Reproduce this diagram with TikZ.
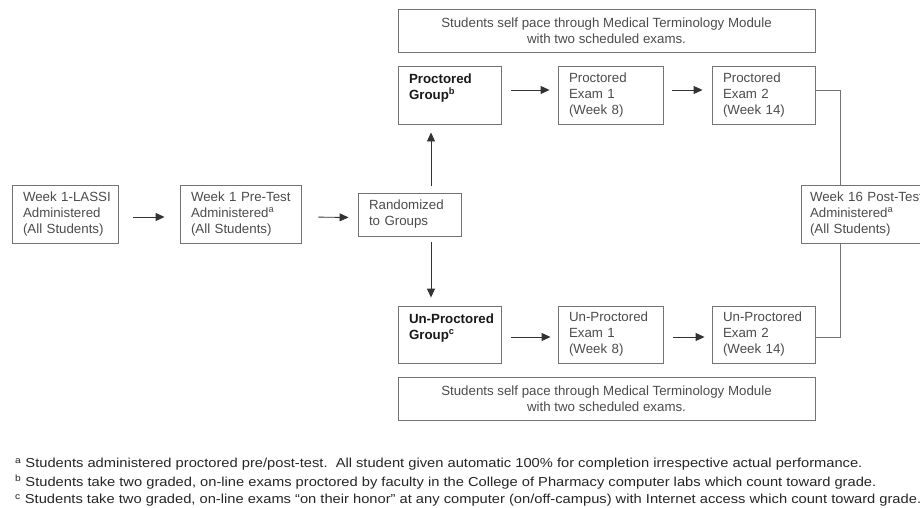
\documentclass[tikz,border=0pt]{standalone}
\usepackage{fontspec}
\setmainfont{Liberation Sans}
\newfontfamily\notefont[FakeStretch=1.13]{Liberation Sans}
\usetikzlibrary{arrows.meta}
\begin{document}
\begin{tikzpicture}[x=1pt,y=-1pt,
  box/.style={draw=black!55, line width=0.9pt, inner xsep=11pt, inner ysep=0pt,
    align=left, font=\fontsize{13.3}{16}\selectfont, text=black!70},
  grp/.style={box, font=\fontsize{13.3}{16}\selectfont\bfseries, text=black!90},
  modbox/.style={draw=black!55, line width=0.9pt, align=center, inner sep=0pt,
    font=\fontsize{13.3}{16}\selectfont, text=black!70, minimum width=417pt, minimum height=43pt},
  arr/.style={draw=black!80, line width=0.9pt, -{Triangle[length=9pt,width=8pt]}},
  link/.style={draw=black!55, line width=0.9pt},
  note/.style={anchor=west, align=left, inner sep=0pt, font=\notefont\fontsize{13}{18}\selectfont, text=black!85}]
\useasboundingbox (0,0) rectangle (920,508);
\clip (0,0) rectangle (920,508);
\fill[white] (0,0) rectangle (920,508);

% boxes
\node[box, text width=84pt, minimum height=58pt] (A) at (65,214)
  {\mbox{Week 1-LASSI}\\\mbox{Administered}\\\mbox{(All Students)}};
\node[box, text width=99pt, minimum height=58pt] (B) at (240.5,214)
  {\mbox{Week 1 Pre-Test}\\\mbox{Administered\textsuperscript{a}}\\\mbox{(All Students)}};
\node[box, text width=81pt, minimum height=43pt] (R) at (409.5,214.5)
  {\mbox{Randomized}\\\mbox{to Groups}};
\node[modbox] (TM) at (606.5,30.5)
  {Students self pace through Medical Terminology Module\\with two scheduled exams.};
\node[grp, text width=81pt, minimum height=58pt] (PG) at (449.5,95)
  {\mbox{Proctored}\\\mbox{Group\textsuperscript{b}}\\\mbox{}};
\node[box, text width=83pt, minimum height=58pt] (E1) at (610.5,95)
  {\mbox{Proctored}\\\mbox{Exam 1}\\\mbox{(Week 8)}};
\node[box, text width=81pt, minimum height=58pt] (E2) at (763.5,95)
  {\mbox{Proctored}\\\mbox{Exam 2}\\\mbox{(Week 14)}};
\node[grp, text width=81pt, minimum height=57pt] (UPG) at (449.5,334.5)
  {\mbox{Un-Proctored}\\\mbox{Group\textsuperscript{c}}\\\mbox{}};
\node[box, text width=83pt, minimum height=57pt] (UE1) at (610.5,334.5)
  {\mbox{Un-Proctored}\\\mbox{Exam 1}\\\mbox{(Week 8)}};
\node[box, text width=81pt, minimum height=57pt] (UE2) at (763.5,334.5)
  {\mbox{Un-Proctored}\\\mbox{Exam 2}\\\mbox{(Week 14)}};
\node[modbox] (BM) at (606.5,398.5)
  {Students self pace through Medical Terminology Module\\with two scheduled exams.};
\node[box, inner xsep=9pt, text width=112pt, minimum height=58pt] (P) at (866,214)
  {\mbox{Week 16 Post-Test}\\\mbox{Administered\textsuperscript{a}}\\\mbox{(All Students)}};

% arrows
\draw[arr, shorten <=15pt, shorten >=15pt] ([yshift=-3pt]A.east) -- ([yshift=-3pt]B.west);
\draw[arr, shorten <=17pt, shorten >=9pt] ([yshift=-3pt]B.east) -- ([yshift=-3pt]R.west);
\draw[arr, shorten <=7pt, shorten >=8pt] ([xshift=21.5pt]R.north) -- ([xshift=21.5pt]R.north |- PG.south);
\draw[arr, shorten <=6pt, shorten >=8pt] ([xshift=21.5pt]R.south) -- ([xshift=21.5pt]R.south |- UPG.north);
\draw[arr, shorten <=10pt, shorten >=8pt] ([yshift=5pt]PG.east) -- ([yshift=5pt]E1.west);
\draw[arr, shorten <=9pt, shorten >=9pt] ([yshift=5pt]E1.east) -- ([yshift=5pt]E2.west);
\draw[arr, shorten <=10pt, shorten >=7pt] ([yshift=-2.5pt]UPG.east) -- ([yshift=-2.5pt]UE1.west);
\draw[arr, shorten <=10pt, shorten >=7pt] ([yshift=-2.5pt]UE1.east) -- ([yshift=-2.5pt]UE2.west);

% links to post-test
\coordinate (Pt) at ([xshift=40pt]P.north west);
\coordinate (Pb) at ([xshift=40pt]P.south west);
\draw[link] ([yshift=5pt]E2.east) -| (Pt);
\draw[link] (Pb) |- ([yshift=-2.5pt]UE2.east);

% footnotes
\node[note] (n1) at (15,464)
  {\textsuperscript{a} Students administered proctored pre/post-test.\ \ All student given automatic 100\% for completion irrespective actual performance.};
\node[note] (n2) at (15,482)
  {\textsuperscript{b} Students take two graded, on-line exams proctored by faculty in the College of Pharmacy computer labs which count toward grade.};
\node[note] (n3) at (15,500)
  {\textsuperscript{c} Students take two graded, on-line exams “on their honor” at any computer (on/off-campus) with Internet access which count toward grade.};
\end{tikzpicture}
\end{document}
